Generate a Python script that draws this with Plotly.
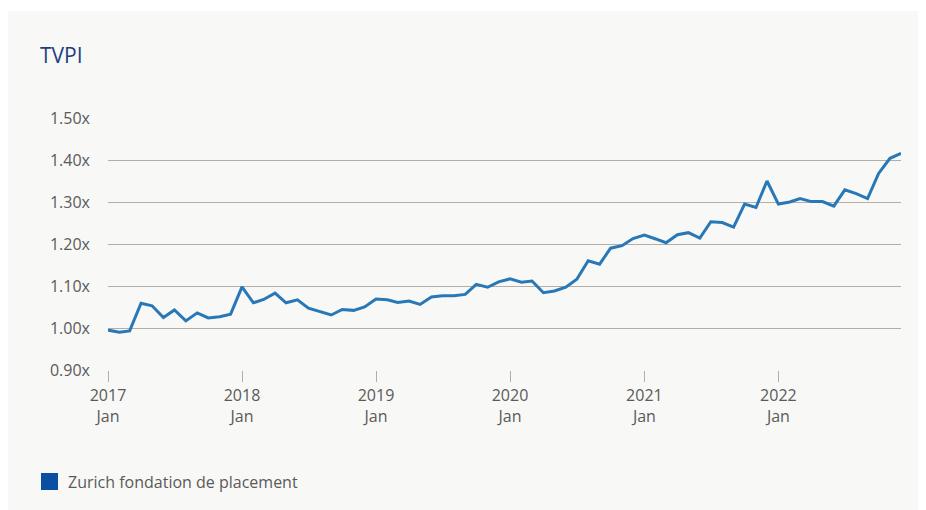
import plotly.graph_objects as go
import pandas as pd

# ---- data ----
months = pd.date_range("2017-01-01", "2022-12-01", freq="MS")
tvpi = [
    0.995, 0.990, 0.993, 1.059, 1.053, 1.025, 1.043, 1.017, 1.036, 1.024, 1.027, 1.033,  # 2017
    1.098, 1.060, 1.068, 1.083, 1.060, 1.067, 1.047, 1.039, 1.031, 1.044, 1.042, 1.050,  # 2018
    1.069, 1.067, 1.061, 1.064, 1.056, 1.074, 1.077, 1.077, 1.080, 1.104, 1.097, 1.110,  # 2019
    1.117, 1.109, 1.112, 1.084, 1.088, 1.097, 1.116, 1.160, 1.152, 1.190, 1.196, 1.213,  # 2020
    1.221, 1.212, 1.203, 1.222, 1.227, 1.214, 1.253, 1.251, 1.240, 1.295, 1.287, 1.350,  # 2021
    1.295, 1.300, 1.308, 1.301, 1.301, 1.290, 1.329, 1.320, 1.308, 1.368, 1.404, 1.416,  # 2022
]
series_name = "Zurich fondation de placement"
y_ticks = [0.90, 1.00, 1.10, 1.20, 1.30, 1.40, 1.50]
y_tick_labels = ["0.90x", "1.00x", "1.10x", "1.20x", "1.30x", "1.40x", "1.50x"]
x_ticks = pd.date_range("2017-01-01", "2022-01-01", freq="YS")
x_tick_labels = [f"{d.year}<br>Jan" for d in x_ticks]

FONT = "Open Sans"
CARD = "#f8f8f6"
GRID = "#b5ada6"
TEXT = "#5a5a5a"

# figure geometry (page adds an 8px body margin)
W, H = 918, 502
L, R, T, B = 100, 25, 110, 140
pw, ph = W - L - R, H - T - B
base = H - B


def px(xf):
    return (xf - L) / pw


def py(yf):
    return (base - yf) / ph


fig = go.Figure()
fig.add_trace(go.Scatter(
    x=months, y=tvpi, mode="lines", name=series_name,
    line=dict(color="#2878b8", width=3), showlegend=False,
))

# thin white strip above the card (card starts slightly below the page top)
fig.add_shape(type="rect", xref="paper", yref="paper",
              x0=px(-10), x1=px(W + 30), y0=py(3), y1=py(-10),
              fillcolor="white", line=dict(width=0), layer="below")

# title
fig.add_annotation(text="TVPI", xref="paper", yref="paper",
                   x=px(30), y=py(47), xanchor="left", yanchor="middle",
                   showarrow=False,
                   font=dict(family=FONT, size=21, color="#1d3f80"))

# legend (square + label)
fig.add_shape(type="rect", xref="paper", yref="paper",
              x0=px(33), x1=px(50), y0=py(482), y1=py(465),
              fillcolor="#0b4fa3", line=dict(width=0))
fig.add_annotation(text=series_name, xref="paper", yref="paper",
                   x=px(58), y=py(473.5), xanchor="left", yanchor="middle",
                   showarrow=False,
                   font=dict(family=FONT, size=16, color=TEXT))

fig.update_layout(
    width=W, height=H,
    margin=dict(l=L, r=R, t=T, b=B),
    paper_bgcolor=CARD,
    plot_bgcolor="rgba(0,0,0,0)",
    font=dict(family=FONT, size=16, color=TEXT),
    showlegend=False,
    xaxis=dict(
        range=[months[0], months[-1]],
        tickvals=x_ticks, ticktext=x_tick_labels,
        showgrid=False, zeroline=False, showline=False,
        ticks="outside", ticklen=11, tickcolor=GRID, tickwidth=1,
        tickfont=dict(family=FONT, size=16, color=TEXT),
    ),
    yaxis=dict(
        range=[0.90, 1.50],
        tickvals=y_ticks, ticktext=y_tick_labels,
        showgrid=True, gridcolor=GRID, gridwidth=1,
        zeroline=False, showline=False, ticks="",
        ticklabelstandoff=17,
        tickfont=dict(family=FONT, size=16, color=TEXT),
    ),
)

fig.write_html("out.html", config={"displayModeBar": False})
